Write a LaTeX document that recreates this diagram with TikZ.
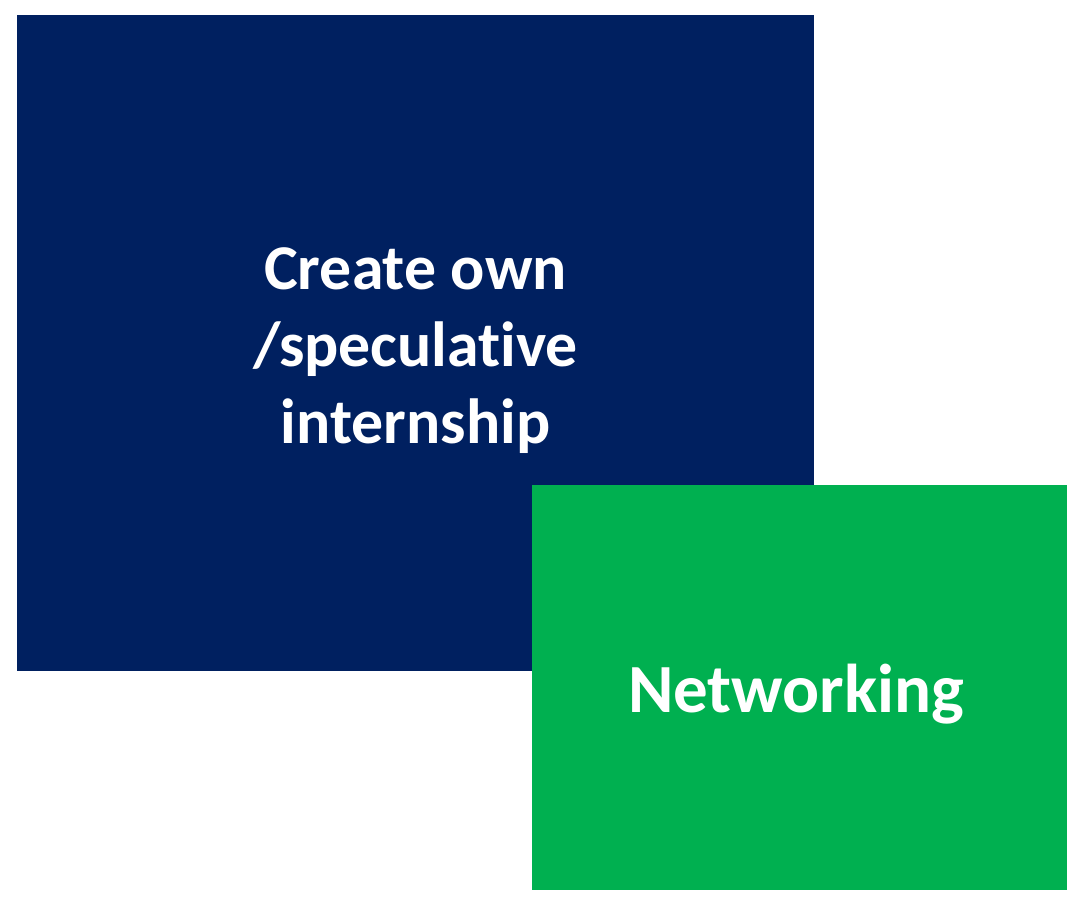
\documentclass[tikz,border=0pt]{standalone}
\usepackage{fontspec}
\setmainfont[Ligatures=NoCommon]{Carlito}
\definecolor{navy}{HTML}{002060}
\definecolor{officegreen}{HTML}{00B050}
\begin{document}
\begin{tikzpicture}[x=1pt,y=-1pt,
  box/.style={draw=none,inner sep=0pt,outer sep=0pt,text=white,font=\bfseries,align=center}]
\useasboundingbox (0,0) rectangle (1076,897);
\fill[navy] (17,15) rectangle (814,671);
\node[box,font=\fontsize{63.8}{77}\selectfont\bfseries] (create) at (415.5,351) {Create own\\/speculative\\internship};
\fill[officegreen] (532,485) rectangle (1067,890);
\node[box,font=\fontsize{69}{77}\selectfont\bfseries] (net) at (796,694) {Networking};
\end{tikzpicture}
\end{document}
